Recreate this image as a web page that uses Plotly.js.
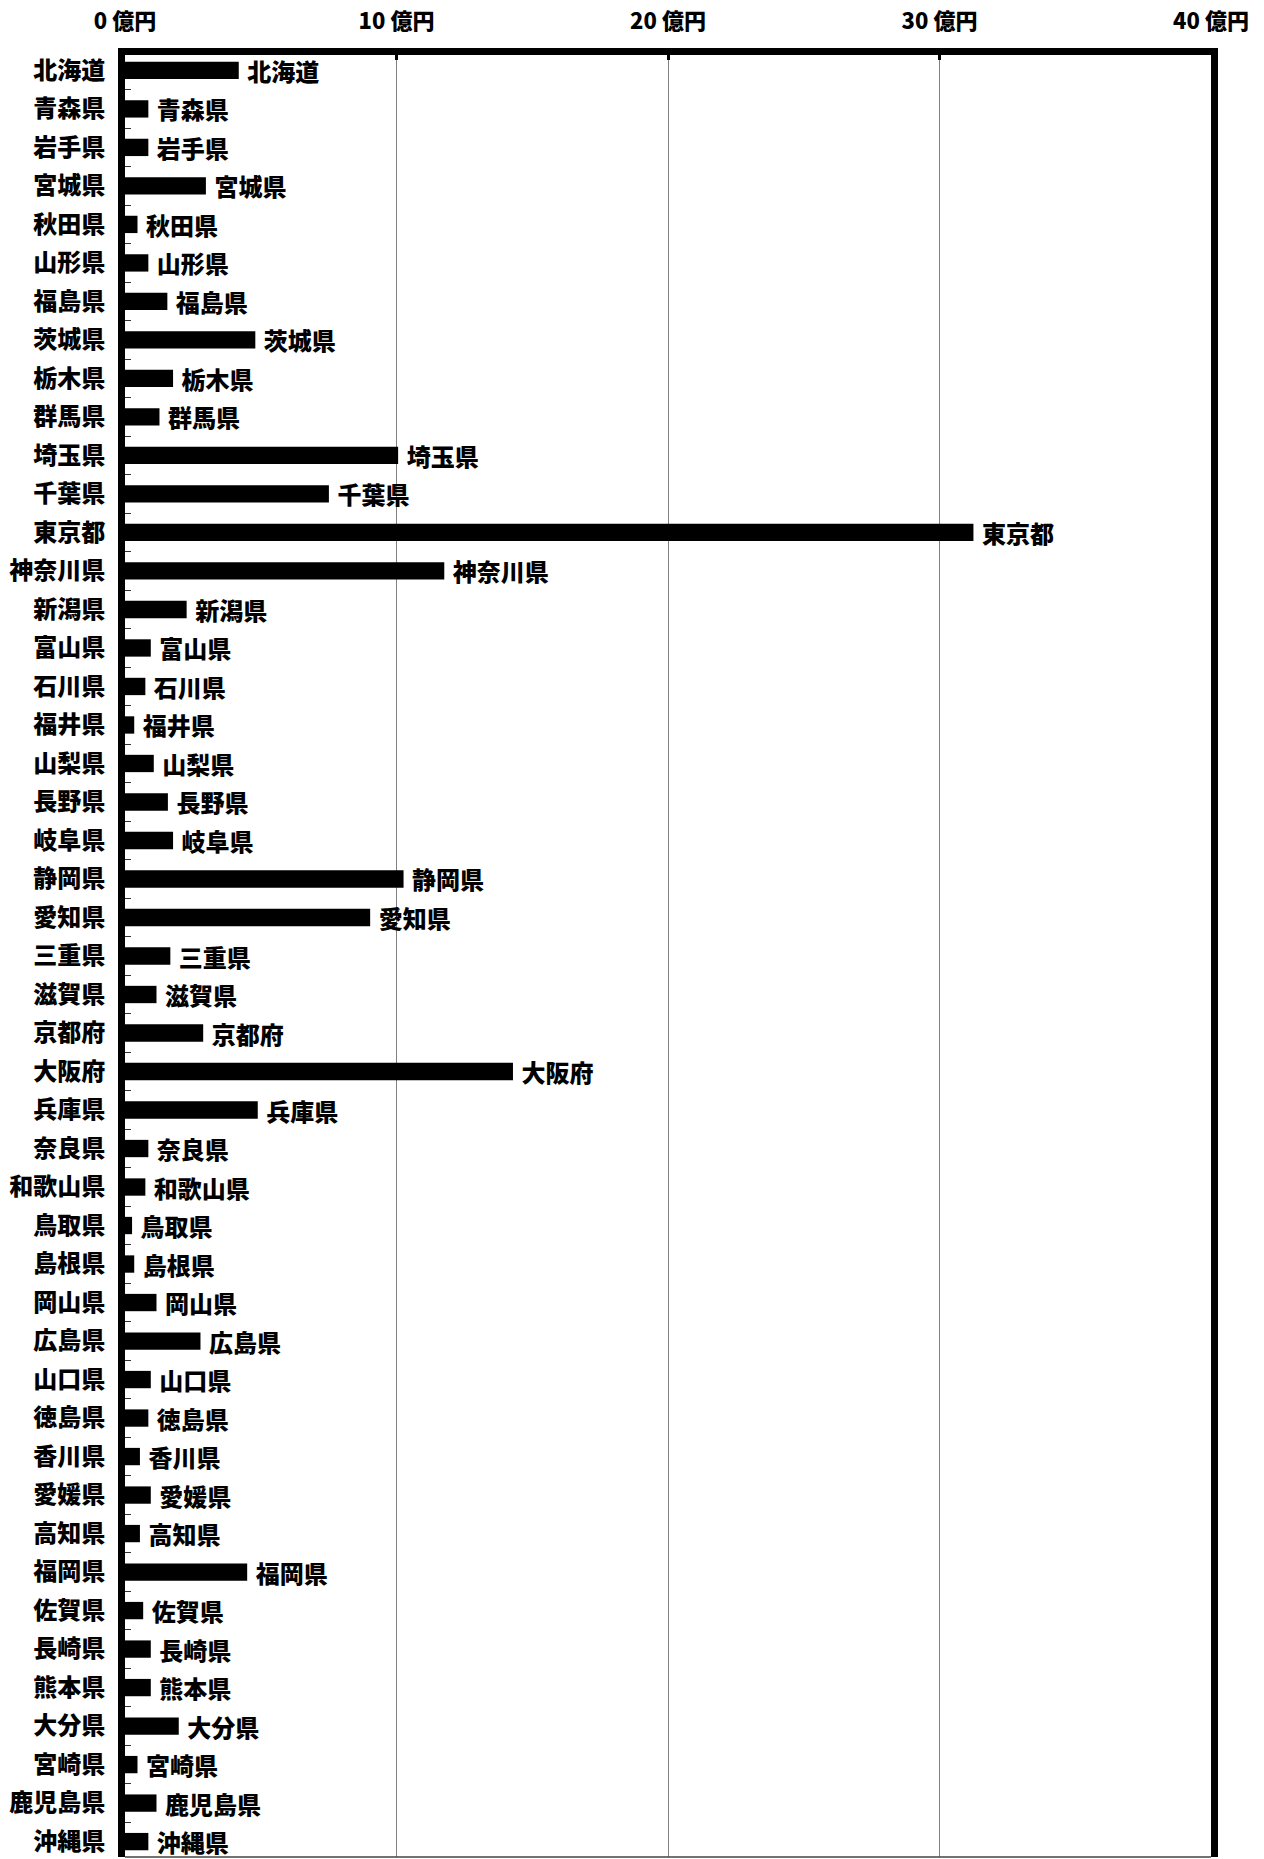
<!DOCTYPE html>
<html>
<head>
<meta charset="utf-8">
<script src="https://cdn.plot.ly/plotly-3.0.1.min.js"></script>
<style>html,body{margin:0;padding:0;background:#fff;}#chart{width:1264px;height:1859px;}</style>
</head>
<body>
<div id="chart"></div>
<script>
const prefectures = ["北海道","青森県","岩手県","宮城県","秋田県","山形県","福島県","茨城県","栃木県","群馬県",
  "埼玉県","千葉県","東京都","神奈川県","新潟県","富山県","石川県","福井県","山梨県","長野県",
  "岐阜県","静岡県","愛知県","三重県","滋賀県","京都府","大阪府","兵庫県","奈良県","和歌山県",
  "鳥取県","島根県","岡山県","広島県","山口県","徳島県","香川県","愛媛県","高知県","福岡県",
  "佐賀県","長崎県","熊本県","大分県","宮崎県","鹿児島県","沖縄県"];
const values = [4.19,0.86,0.86,2.98,0.46,0.86,1.56,4.80,1.77,1.27,
  10.06,7.51,31.25,11.76,2.27,0.95,0.75,0.34,1.06,1.58,
  1.77,10.26,9.03,1.67,1.16,2.88,14.29,4.89,0.86,0.75,
  0.26,0.34,1.16,2.78,0.95,0.86,0.55,0.95,0.55,4.50,
  0.67,0.95,0.95,1.98,0.46,1.16,0.86];
const tickValues = [0,10,20,30,40];
const tickLabels = ["0 億円","10 億円","20 億円","30 億円","40 億円"];

const font = {family: "Noto Sans CJK JP, sans-serif", size: 24, color: "#000", weight: 900};
const tickFontTop = {family: "Noto Sans CJK JP, sans-serif", size: 22, color: "#000", weight: 900};

const trace = {
  type: "bar",
  orientation: "h",
  y: prefectures,
  x: values,
  width: 0.45,
  marker: {color: "#000", line: {width: 0}},
  text: prefectures.map(p => "\u00A0" + p),
  textposition: "outside",
  constraintext: "none",
  cliponaxis: false,
  textfont: font,
  hoverinfo: "none"
};

const layout = {
  width: 1264, height: 1859,
  margin: {l: 125, r: 53, t: 55, b: 2, pad: 0},
  paper_bgcolor: "#fff", plot_bgcolor: "#fff",
  showlegend: false,
  font: font,
  xaxis: {
    side: "top",
    range: [0, 40],
    tickvals: tickValues,
    ticktext: tickLabels,
    tickfont: tickFontTop,
    showgrid: true, gridcolor: "#808080", gridwidth: 1,
    zeroline: false,
    showline: true, linecolor: "#000", linewidth: 7,
    ticks: "inside", ticklen: 5, tickwidth: 3, tickcolor: "#000",
    ticklabelstandoff: 10,
    automargin: false, fixedrange: true
  },
  yaxis: {
    type: "category",
    categoryorder: "array", categoryarray: prefectures,
    range: [46.4, -0.4],
    tickfont: font,
    showgrid: false, zeroline: false,
    showline: true, linecolor: "#000", linewidth: 7, mirror: true,
    ticks: "inside", tickson: "boundaries", ticklen: 6, tickwidth: 1, tickcolor: "#333",
    ticklabelstandoff: 8,
    automargin: false, fixedrange: true
  },
  shapes: [{
    type: "line", xref: "paper", yref: "paper", x0: 0, x1: 1, y0: 0, y1: 0,
    line: {color: "#444", width: 1.5}
  }]
};

Plotly.newPlot("chart", [trace], layout, {staticPlot: true, displayModeBar: false});
</script>
</body>
</html>
